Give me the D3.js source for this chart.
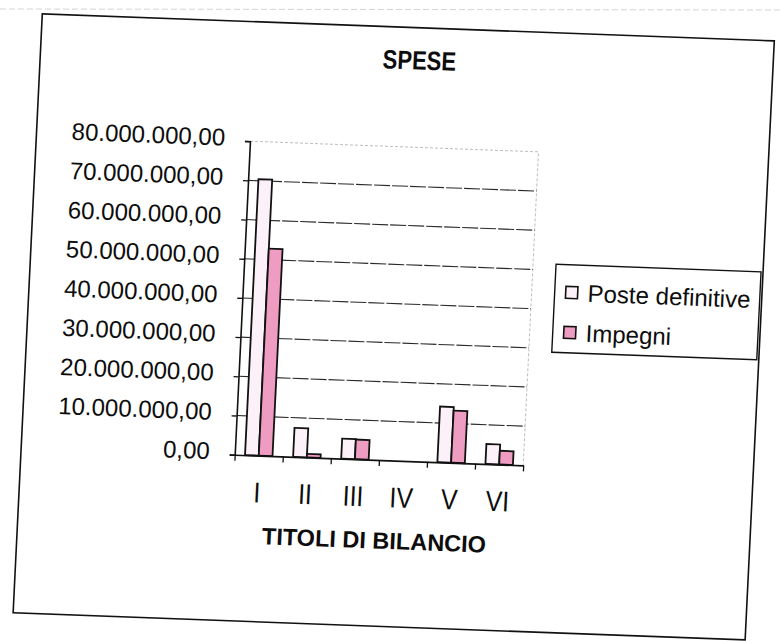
<!DOCTYPE html>
<html>
<head>
<meta charset="utf-8">
<script src="https://cdn.jsdelivr.net/npm/d3@7/dist/d3.min.js"></script>
<style>
  html, body { margin: 0; padding: 0; background: #fff; }
  svg { display: block; font-family: "Liberation Sans", Arial, sans-serif; }
</style>
</head>
<body>
<svg id="chart" width="781" height="641"></svg>
<script>
// data
const categories = ["I", "II", "III", "IV", "V", "VI"];
const seriesNames = ["Poste definitive", "Impegni"];
const posteDefinitive = [70400000, 7400000, 5100000, 0, 14200000, 5100000];
const impegni = [52800000, 900000, 5000000, 0, 13300000, 3500000];
const yTicks = [0, 10000000, 20000000, 30000000, 40000000, 50000000, 60000000, 70000000, 80000000];
const seriesColors = ["#fdf1f9", "#ee9cc2"];

const it = d3.formatLocale({ decimal: ",", thousands: ".", grouping: [3], currency: ["", " €"] });
const fmt = it.format(",.2f");

const svg = d3.select("#chart");

// faint edge of the next sheet in the scan
svg.append("line")
  .attr("x1", 0).attr("x2", 781).attr("y1", 9).attr("y2", 10)
  .attr("stroke", "#d4d4d4").attr("stroke-dasharray", "6,3");

// the scanned page is a little skewed, so the whole chart is drawn in a tilted group
const page = svg.append("g")
  .attr("transform", "matrix(1,0.037,-0.0487,1,42.3,13.8)");

page.append("rect")
  .attr("x", 0).attr("y", 0).attr("width", 732).attr("height", 599)
  .attr("fill", "#fff").attr("stroke", "#111").attr("stroke-width", 1.6);

const margin = { left: 213.5, top: 119.5 };
const width = 288.5;
const height = 313.5;

const g = page.append("g")
  .attr("transform", "translate(" + margin.left + "," + margin.top + ")");

const x0 = d3.scaleBand()
  .domain(categories)
  .range([0, width])
  .paddingInner(1.5 / 3.5)
  .paddingOuter(0.75 / 3.5);

const x1 = d3.scaleBand()
  .domain(seriesNames)
  .range([0, x0.bandwidth()]);

const y = d3.scaleLinear()
  .domain([0, 80000000])
  .range([height, 0]);

// plot area border (top + right, light grey)
g.append("path")
  .attr("d", "M0,0H" + width + "V" + height)
  .attr("fill", "none").attr("stroke", "#bdbdbd").attr("stroke-dasharray", "3,2");

// gridlines
g.append("g")
  .selectAll("line")
  .data(yTicks.filter(d => d > 0 && d < 80000000))
  .enter()
  .append("line")
  .attr("x1", 0).attr("x2", width)
  .attr("y1", d => y(d)).attr("y2", d => y(d))
  .attr("stroke", "#2a2a2a").attr("stroke-width", 1.1)
  .attr("stroke-dasharray", "16,2");

// bars
const data = categories.map((c, i) => ({
  cat: c,
  vals: [
    { name: seriesNames[0], value: posteDefinitive[i] },
    { name: seriesNames[1], value: impegni[i] },
  ],
}));

g.append("g")
  .selectAll("g")
  .data(data)
  .enter()
  .append("g")
  .attr("transform", d => "translate(" + x0(d.cat) + ",0)")
  .selectAll("rect")
  .data(d => d.vals.filter(v => v.value > 0))
  .enter()
  .append("rect")
  .attr("x", d => x1(d.name))
  .attr("y", d => y(d.value))
  .attr("width", x1.bandwidth())
  .attr("height", d => height - y(d.value))
  .attr("fill", d => seriesColors[seriesNames.indexOf(d.name)])
  .attr("stroke", "#111")
  .attr("stroke-width", 1.8);

// y axis
const yAxis = g.append("g")
  .call(d3.axisLeft(y).tickValues(yTicks).tickFormat(fmt).tickSize(5).tickPadding(20));
yAxis.select(".domain").attr("stroke", "#111").attr("stroke-width", 1.6);
yAxis.selectAll(".tick line").attr("stroke", "#111").attr("stroke-width", 1.3);
yAxis.selectAll("text")
  .attr("fill", "#0d0d0d")
  .attr("y", -3)
  .style("font-size", "24px");

// x axis: ticks at category boundaries, labels centred
const xb = d3.scaleLinear().domain([0, categories.length]).range([0, width]);
const xTickAxis = g.append("g")
  .attr("transform", "translate(0," + height + ")")
  .call(d3.axisBottom(xb).tickValues(d3.range(categories.length + 1)).tickFormat("").tickSize(6).tickSizeOuter(0));
xTickAxis.select(".domain").attr("stroke", "#111").attr("stroke-width", 1.6);
xTickAxis.selectAll(".tick line").attr("stroke", "#111").attr("stroke-width", 1.3);

const xAxis = g.append("g")
  .attr("transform", "translate(0," + height + ")")
  .call(d3.axisBottom(x0).tickSize(0).tickPadding(24));
xAxis.select(".domain").remove();
xAxis.selectAll("text")
  .attr("fill", "#0d0d0d")
  .style("font-size", "26px")
  .attr("transform", "scale(0.95,1.1)");

// titles
page.append("text")
  .attr("transform", "translate(378.7,32.2) scale(1,1.2)")
  .attr("text-anchor", "middle")
  .attr("dy", "0.36em")
  .style("font-size", "22px")
  .style("font-weight", "bold")
  .attr("fill", "#0d0d0d")
  .text("SPESE");

page.append("text")
  .attr("x", 356.7).attr("y", 513)
  .attr("text-anchor", "middle")
  .attr("dy", "0.36em")
  .style("font-size", "23.5px")
  .style("font-weight", "bold")
  .attr("fill", "#0d0d0d")
  .text("TITOLI DI BILANCIO");

// legend
const legend = page.append("g").attr("transform", "translate(525,231)");
legend.append("rect")
  .attr("width", 205).attr("height", 88)
  .attr("fill", "#fff").attr("stroke", "#111").attr("stroke-width", 1.4);

const item = legend.selectAll(".item")
  .data(seriesNames)
  .enter()
  .append("g")
  .attr("class", "item")
  .attr("transform", (d, i) => "translate(17," + (27.7 + i * 40) + ")");

item.append("rect")
  .attr("x", -6).attr("y", -6).attr("width", 12).attr("height", 12)
  .attr("fill", (d, i) => seriesColors[i])
  .attr("stroke", "#111").attr("stroke-width", 1.6);

item.append("text")
  .attr("x", 16)
  .attr("dy", "0.36em")
  .style("font-size", "24px")
  .attr("fill", "#0d0d0d")
  .text(d => d);
</script>
</body>
</html>
